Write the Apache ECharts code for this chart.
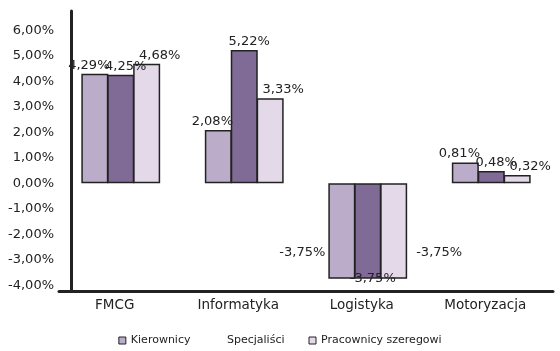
<!DOCTYPE html>
<html>
<head>
<meta charset="utf-8">
<script src="https://cdn.jsdelivr.net/npm/echarts@6/dist/echarts.min.js"></script>
<style>
  html, body { margin: 0; padding: 0; background: #fff; }
  #chart { width: 560px; height: 351px; }
</style>
</head>
<body>
<div id="chart"></div>
<script>
// Wage growth by sector and job level
const categories = ['FMCG', 'Informatyka', 'Logistyka', 'Motoryzacja'];
const kierownicy = [4.29, 2.08, -3.75, 0.81];
const specjalisci = [4.25, 5.22, -3.75, 0.48];
const pracownicy = [4.68, 3.33, -3.75, 0.32];
const seriesNames = ['Kierownicy', 'Specjaliści', 'Pracownicy szeregowi'];
const yTicks = [-4, -3, -2, -1, 0, 1, 2, 3, 4, 5, 6];

const FONT = '"DejaVu Sans", Verdana, sans-serif';
const INK = '#222222';

function pct(v) {
  return v.toFixed(2).replace('.', ',') + '%';
}

function makeSeries(name, values, color, posLabel, negLabel) {
  return {
    name: name,
    type: 'bar',
    barWidth: 27,
    barGap: '-4%',
    itemStyle: { color: color, borderColor: INK, borderWidth: 1.5 },
    label: Object.assign({
      show: true,
      fontFamily: FONT,
      fontSize: 13,
      color: INK,
      formatter: (p) => pct(p.value)
    }, posLabel),
    data: values.map((v) => v < 0 ? { value: v, label: negLabel } : v)
  };
}

const chart = echarts.init(document.getElementById('chart'), null, { renderer: 'canvas' });

chart.setOption({
  backgroundColor: '#ffffff',
  animation: false,
  grid: { left: 59, right: 7, top: 11, bottom: 59.5 },
  legend: {
    top: 330,
    left: 'center',
    itemWidth: 7,
    itemHeight: 7,
    itemGap: 24,
    icon: 'rect',
    itemStyle: { borderColor: INK, borderWidth: 1 },
    textStyle: { fontFamily: FONT, fontSize: 11, color: INK },
    data: [
      { name: seriesNames[0] },
      { name: seriesNames[1], itemStyle: { opacity: 0 } },
      { name: seriesNames[2] }
    ]
  },
  xAxis: {
    type: 'category',
    data: categories,
    axisLine: { onZero: false, lineStyle: { color: INK, width: 3 } },
    axisTick: { show: false },
    axisLabel: {
      fontFamily: FONT,
      fontSize: 13.5,
      color: INK,
      margin: 7,
      padding: [0, 12, 0, 0]
    }
  },
  yAxis: {
    type: 'value',
    min: -4.25,
    max: 6.75,
    interval: 0.25,
    offset: -12,
    splitLine: { show: false },
    axisTick: { show: false },
    axisLine: { show: true, lineStyle: { color: INK, width: 3 } },
    axisLabel: {
      fontFamily: FONT,
      fontSize: 13,
      color: INK,
      margin: 17,
      formatter: (v) => {
        const r = Math.round(v);
        return (Math.abs(v - r) < 1e-6 && yTicks.includes(r)) ? pct(r) : '';
      }
    }
  },
  series: [
    makeSeries(seriesNames[0], kierownicy, '#BBADC9',
      { position: 'top', distance: 2, offset: [-6, 0] },
      { position: 'left', offset: [-1, 22] }),
    makeSeries(seriesNames[1], specjalisci, '#806A96',
      { position: 'top', distance: 2, offset: [5, 0] },
      { position: 'bottom', distance: -7 }),
    makeSeries(seriesNames[2], pracownicy, '#E3D9E8',
      { position: 'top', distance: 2, offset: [13, 0] },
      { position: 'right', offset: [7, 22] })
  ]
});
</script>
</body>
</html>
